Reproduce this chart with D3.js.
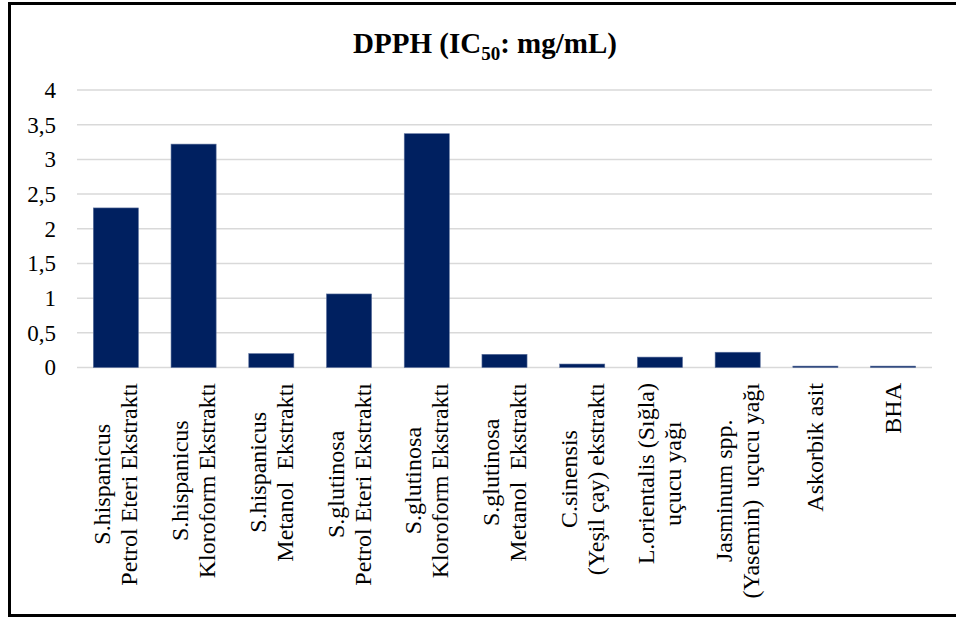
<!DOCTYPE html>
<html>
<head>
<meta charset="utf-8">
<script src="https://cdn.jsdelivr.net/npm/d3@7/dist/d3.min.js"></script>
<style>
  html, body { margin: 0; padding: 0; background: #fff; }
  svg { display: block; }
  text { font-family: "Liberation Serif", "Times New Roman", "DejaVu Serif", serif; white-space: pre; }
</style>
</head>
<body>
<svg id="chart" width="956" height="621"></svg>
<script>
// DPPH radical scavenging, IC50 values (mg/mL)
const categories = [
  ["S.hispanicus", "Petrol Eteri Ekstraktı"],
  ["S.hispanicus", "Kloroform Ekstraktı"],
  ["S.hispanicus", "Metanol  Ekstraktı"],
  ["S.glutinosa", "Petrol Eteri Ekstraktı"],
  ["S.glutinosa", "Kloroform Ekstraktı"],
  ["S.glutinosa", "Metanol  Ekstraktı"],
  ["C.sinensis", "(Yeşil çay) ekstraktı"],
  ["L.orientalis (Sığla)", "uçucu yağı"],
  ["Jasminum spp.", "(Yasemin)  uçucu yağı"],
  ["Askorbik asit"],
  ["BHA"]
];
const values = [2.3, 3.22, 0.2, 1.06, 3.37, 0.19, 0.05, 0.15, 0.22, 0.02, 0.02];
const yTicks = [0, 0.5, 1, 1.5, 2, 2.5, 3, 3.5, 4];

const serif = "Liberation Serif, Times New Roman, DejaVu Serif, serif";
const svg = d3.select("#chart");
const plot = { left: 77, right: 932, top: 90, bottom: 367.5 };

// outer frame (right side runs off the page)
svg.append("rect")
  .attr("x", 9.5).attr("y", 3.5)
  .attr("width", 960).attr("height", 612)
  .attr("fill", "#fff").attr("stroke", "#000").attr("stroke-width", 3);

// title with subscript
const title = svg.append("text")
  .attr("x", 485).attr("y", 53)
  .attr("text-anchor", "middle")
  .attr("font-family", serif)
  .attr("font-size", 29).attr("font-weight", "bold").attr("fill", "#000");
title.append("tspan").text("DPPH (IC");
title.append("tspan").attr("font-size", 19).attr("dy", 7).text("50");
title.append("tspan").attr("dy", -7).text(": mg/mL)");

const x = d3.scaleBand()
  .domain(d3.range(categories.length))
  .range([plot.left, plot.right])
  .paddingInner(0.42).paddingOuter(0.21);

const y = d3.scaleLinear().domain([0, 4]).range([plot.bottom, plot.top]);

// gridlines
svg.append("g").selectAll("line").data(yTicks).join("line")
  .attr("x1", plot.left).attr("x2", plot.right)
  .attr("y1", d => y(d)).attr("y2", d => y(d))
  .attr("stroke", "#d9d9d9").attr("stroke-width", 1.5);

// y-axis labels
const fmt = d => String(d).replace(".", ",");
const yAxis = svg.append("g")
  .attr("transform", `translate(${plot.left},0)`)
  .call(d3.axisLeft(y).tickValues(yTicks).tickFormat(fmt).tickSize(0).tickPadding(21));
yAxis.attr("font-family", serif);
yAxis.select(".domain").remove();
yAxis.selectAll("text")
  .attr("font-family", serif)
  .attr("font-size", 23).attr("fill", "#000");

// bars
svg.append("g").selectAll("rect").data(values).join("rect")
  .attr("x", (d, i) => x(i))
  .attr("width", x.bandwidth())
  .attr("y", d => y(d))
  .attr("height", d => y(0) - y(d))
  .attr("fill", "#002060")
  .attr("stroke", "#5a6f9c").attr("stroke-width", 0.6);

// rotated category labels, lines centred, block ending just under the axis
const labelTop = 383;
const lineH = 27;
const labels = svg.append("g");
categories.forEach((lines, i) => {
  const cx = x(i) + x.bandwidth() / 2;
  const g = labels.append("g").attr("transform", `translate(${cx},0) rotate(-90)`);
  const ts = lines.map((s, k) => g.append("text")
    .attr("font-family", serif)
    .attr("font-size", 24).attr("fill", "#000")
    .attr("text-anchor", "middle")
    .attr("dominant-baseline", "central")
    .attr("y", (k - (lines.length - 1) / 2) * lineH)
    .text(s));
  const w = d3.max(ts, t => t.node().getComputedTextLength());
  ts.forEach(t => t.attr("x", -(labelTop + w / 2)));
});
</script>
</body>
</html>
